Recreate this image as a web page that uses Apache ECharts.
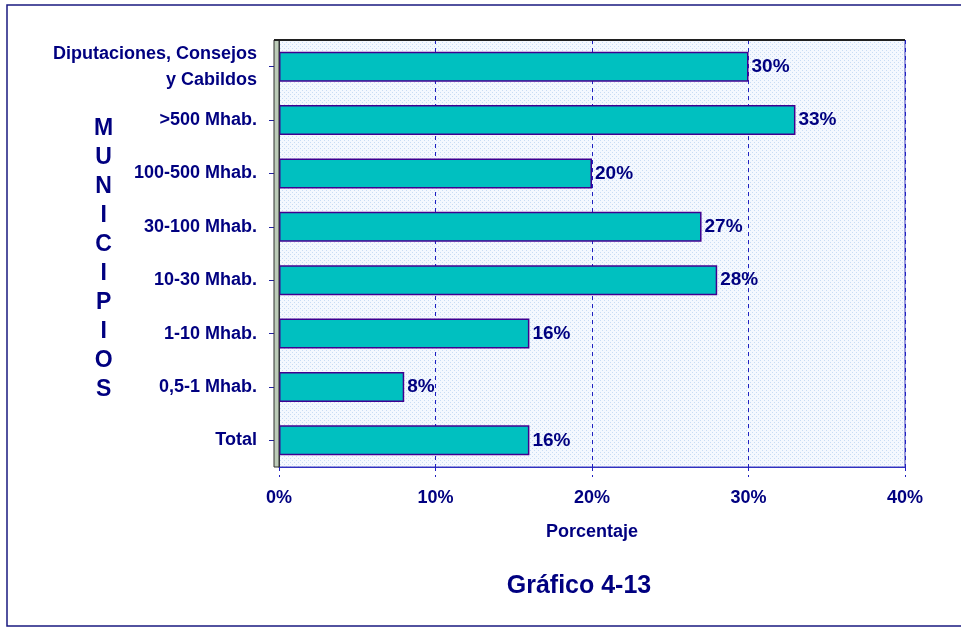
<!DOCTYPE html>
<html>
<head>
<meta charset="utf-8">
<script src="https://cdn.jsdelivr.net/npm/echarts@6/dist/echarts.min.js"></script>
<style>
  html, body { margin: 0; padding: 0; background: #fff; }
  #chart { width: 961px; height: 627px; }
</style>
</head>
<body>
<div id="chart"></div>
<script>
  // categories top to bottom, values in %
  const categories = ['Diputaciones, Consejos\ny Cabildos', '>500 Mhab.', '100-500 Mhab.', '30-100 Mhab.', '10-30 Mhab.', '1-10 Mhab.', '0,5-1 Mhab.', 'Total'];
  const values = [30, 33, 20, 27, 28, 16, 8, 16];
  const xTicks = [0, 10, 20, 30, 40];

  const navy = '#000080';
  const font = 'Arial, "Liberation Sans", sans-serif';

  // dotted fill of the plot area
  const dots = document.createElement('canvas');
  dots.width = 4; dots.height = 4;
  const ctx = dots.getContext('2d');
  ctx.fillStyle = '#f4f8fe';
  ctx.fillRect(0, 0, 4, 4);
  ctx.fillStyle = '#c8dcf4';
  ctx.fillRect(0, 0, 1, 1);
  ctx.fillRect(2, 2, 1, 1);

  const chart = echarts.init(document.getElementById('chart'));
  chart.setOption({
    animation: false,
    title: {
      text: 'Gráfico 4-13',
      left: 574, top: 569, textAlign: 'center',
      textStyle: { color: navy, fontFamily: font, fontWeight: 'bold', fontSize: 25 }
    },
    grid: {
      left: 279, right: 56, top: 40, bottom: 160,
      show: true,
      backgroundColor: { image: dots, repeat: 'repeat' },
      borderColor: '#4040c0', borderWidth: 1
    },
    xAxis: {
      type: 'value',
      min: 0, max: 40, interval: 10,
      name: 'Porcentaje',
      nameLocation: 'middle', nameGap: 56,
      nameTextStyle: { color: navy, fontFamily: font, fontWeight: 'bold', fontSize: 18 },
      axisLine: { show: true, lineStyle: { color: '#3030c0', width: 1 } },
      axisTick: { show: true, length: 10, lineStyle: { color: '#2020c0', type: [4, 4] } },
      axisLabel: {
        margin: 22, color: navy, fontFamily: font, fontWeight: 'bold', fontSize: 18,
        formatter: v => xTicks.includes(v) ? v + '%' : ''
      },
      splitLine: { show: true, lineStyle: { color: '#2020c0', type: [4, 4], width: 1 } }
    },
    yAxis: {
      type: 'category',
      data: categories,
      inverse: true,
      axisLine: { show: true, lineStyle: { color: '#303040', width: 1 } },
      axisTick: { show: true, alignWithLabel: true, length: 10, lineStyle: { color: '#2020a0' } },
      axisLabel: {
        margin: 22, color: navy, fontFamily: font, fontWeight: 'bold', fontSize: 18,
        lineHeight: 26, align: 'right'
      }
    },
    series: [{
      type: 'bar',
      data: values,
      barWidth: '56%',
      itemStyle: { color: '#00c0c0', borderColor: '#400090', borderWidth: 1.5 },
      label: {
        show: true, position: 'right', distance: 3,
        formatter: '{c}%',
        color: navy, fontFamily: font, fontWeight: 'bold', fontSize: 19
      }
    }],
    graphic: [
      { type: 'rect', shape: { x: 7, y: 5, width: 980, height: 621 }, style: { fill: 'none', stroke: '#1a1a80', lineWidth: 1.5 }, silent: true },
      { type: 'rect', shape: { x: 274, y: 40, width: 5, height: 427 }, style: { fill: '#bccbb8', stroke: '#303030', lineWidth: 1 }, z: 10 },
      { type: 'line', shape: { x1: 274, y1: 40, x2: 905, y2: 40 }, style: { stroke: '#202020', lineWidth: 2 }, z: 10 },
      {
        type: 'text', left: 94, top: 114, z: 10,
        style: {
          text: 'M\nU\nN\nI\nC\nI\nP\nI\nO\nS',
          fill: navy, font: 'bold 23px ' + font, lineHeight: 29, textAlign: 'center', align: 'center'
        }
      }
    ]
  });
</script>
</body>
</html>
